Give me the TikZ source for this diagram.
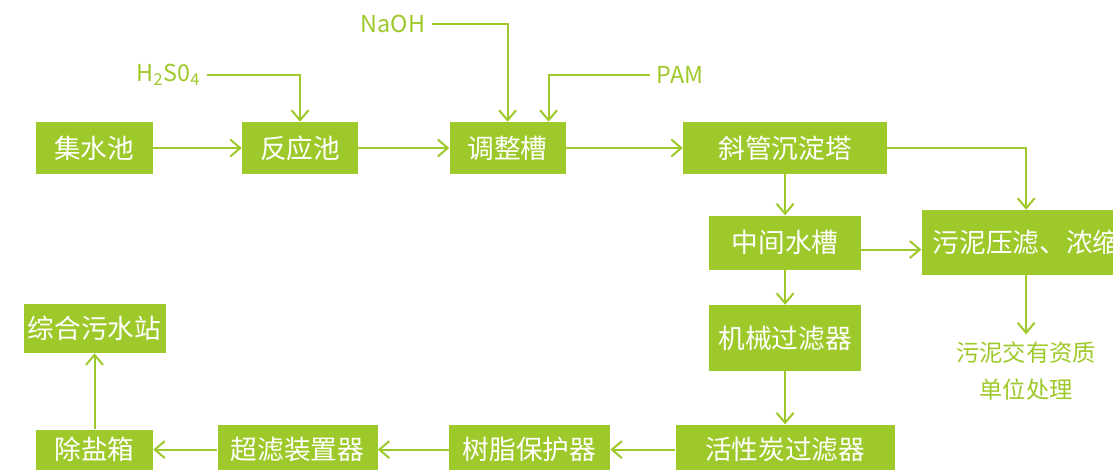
\documentclass[tikz,border=0pt]{standalone}
\usepackage{fontspec}
\setmainfont{Noto Sans CJK SC}
\usetikzlibrary{positioning,arrows.meta}
\definecolor{leaf}{RGB}{158,201,42}

\begin{document}
\begin{tikzpicture}
    \tikzstyle{arrow} = [leaf,line width=1.5pt,-{Straight Barb[length=7.5pt,width=12.75pt]}]
       \tikzset{unit/.style = {rectangle, fill=leaf, text=white, text centered, inner sep=0pt, font=\fontsize{20}{24}\selectfont}, }
       \tikzset{dose/.style = {text=leaf, inner xsep=5pt, inner ysep=0pt, font=\fontsize{17.5}{27.75}\selectfont}, }
       \clip (0,0) rectangle (834.75pt,-351.75pt);
       % top row
       \node[unit, minimum width=87.75pt, minimum height=39pt] (A) at (70.5pt,-111pt) {集水池};
       \node[unit, minimum width=87pt, minimum height=39pt, right=66.75pt of A] (B) {反应池};
       \node[unit, minimum width=87pt, minimum height=39pt, right=68.25pt of B] (C) {调整槽};
       \node[unit, minimum width=153pt, minimum height=39pt, right=87.75pt of C] (D) {斜管沉淀塔};
       % column
       \node[unit, minimum width=114pt, minimum height=40.5pt, below=30.75pt of D] (E) {中间水槽};
       \node[unit, minimum width=114pt, minimum height=49.5pt, below=26.25pt of E] (F) {机械过滤器};
       \node[unit, minimum width=156.75pt, minimum height=48.75pt, right=45pt of E] (K) {污泥压滤、浓缩};
       \node[dose, align=center, inner ysep=5pt, below=44.25pt of K] (M) {污泥交有资质\\单位处理};
       % bottom row
       \node[unit, minimum width=164.25pt, minimum height=37.5pt, below=39.75pt of F] (G) {活性炭过滤器};
       \node[unit, minimum width=120.75pt, minimum height=37.5pt, left=48.75pt of G] (H) {树脂保护器};
       \node[unit, minimum width=120pt, minimum height=37.5pt, left=53.25pt of H] (I) {超滤装置器};
       \node[unit, minimum width=87.75pt, minimum height=30pt, left=48pt of I] (J) {除盐箱};
       \node[unit, minimum width=106.5pt, minimum height=36.75pt, above=57pt of J] (L) {综合污水站};
       % dosing
       \node[dose, anchor=east] (h2so4) at (155.25pt,-56.25pt) {H\textsubscript{2}S0\textsubscript{4}};
       \node[dose, anchor=east] (naoh) at (324pt,-18pt) {NaOH};
       \node[dose, anchor=west] (pam) at (487.5pt,-56.25pt) {PAM};

       \draw[arrow] (A) -- (B);
       \draw[arrow] (B) -- (C);
       \draw[arrow] (C) -- (D);
       \draw[arrow] (D) -- (E);
       \draw[arrow] (E) -- (F);
       \draw[arrow] (F) -- (G);
       \draw[arrow] (G) -- (H);
       \draw[arrow] (H) -- (I);
       \draw[arrow] (I) -- (J);
       \draw[arrow] (J) -- (L);
       \draw[arrow] (D.east) -| (K.north);
       \draw[arrow] ([yshift=-5.25pt]E.east) -- ([yshift=-5.25pt]K.west);
       \draw[arrow] (K) -- (M);

       \draw[arrow] (h2so4.east) -| (B.north);
       \draw[arrow] (naoh.east) -| (C.north);
       \draw[arrow] (pam.west) -| ([xshift=30.75pt]C.north);

\end{tikzpicture}
\end{document}
